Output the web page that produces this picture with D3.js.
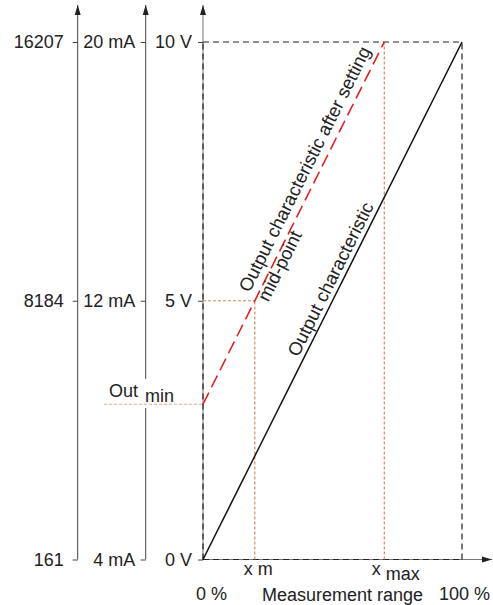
<!DOCTYPE html>
<html>
<head>
<meta charset="utf-8">
<script src="https://cdn.jsdelivr.net/npm/d3@7"></script>
<style>
  body { margin: 0; background: #fff; }
  text { font-family: "Liberation Sans", Arial, sans-serif; fill: #222; }
</style>
</head>
<body>
<div id="chart"></div>
<script>
// values
const percentRange = [0, 100];
const voltTicks = [0, 5, 10];
const mATicks = [4, 12, 20];
const countTicks = [161, 8184, 16207];
const outputCharacteristic = [[0, 0], [100, 10]];
const afterMidpoint = [[0, 3], [70, 10]];
const midPoint = [20, 5];
const xMax = 70;
const outMin = 3;

const W = 493, H = 605;
const fs = 18;

const svg = d3.select("#chart").append("svg")
    .attr("width", W)
    .attr("height", H);

const defs = svg.append("defs");
defs.append("marker")
    .attr("id", "arrow")
    .attr("viewBox", "0 0 10 10")
    .attr("refX", 10).attr("refY", 5)
    .attr("markerWidth", 10).attr("markerHeight", 10)
    .attr("markerUnits", "userSpaceOnUse")
    .attr("orient", "auto")
    .append("path")
    .attr("d", "M0,2 L10,5 L0,8 Z")
    .attr("fill", "#222");

const x = d3.scaleLinear().domain(percentRange).range([203, 462]);
const y = d3.scaleLinear().domain([0, 10]).range([559.5, 42]);
const yMA = d3.scaleLinear().domain([4, 20]).range([559.5, 42]);
const yCount = d3.scaleLinear().domain([161, 16207]).range([559.5, 42]);

const axisTop = 5;

// three vertical axes: counts, mA, volts
function sideAxis(xPos, scale, ticks, fmt, pad) {
    svg.append("line")
        .attr("x1", xPos).attr("x2", xPos)
        .attr("y1", scale.range()[0]).attr("y2", axisTop)
        .attr("stroke", "#444").attr("stroke-width", 1)
        .attr("marker-end", "url(#arrow)");
    const g = svg.append("g")
        .attr("transform", `translate(${xPos},0)`)
        .call(d3.axisLeft(scale).tickValues(ticks).tickSize(5).tickSizeOuter(0)
            .tickPadding(pad).tickFormat(fmt));
    g.select(".domain").remove();
    g.selectAll(".tick line").attr("stroke", "#444");
    g.selectAll(".tick text")
        .style("font-size", fs + "px")
        .style("font-family", "Liberation Sans, Arial, sans-serif")
        .attr("fill", "#222");
    return g;
}

sideAxis(77.7, yCount, countTicks, d => d, 9);
sideAxis(145.7, yMA, mATicks, d => d + " mA", 5.5);
// white gap behind "min" on the mA axis
svg.append("rect")
    .attr("x", 142).attr("y", 379)
    .attr("width", 36).attr("height", 29)
    .attr("fill", "#fff");

// main volt axis: grey solid + dark dashes
svg.append("line")
    .attr("x1", x(0)).attr("x2", x(0))
    .attr("y1", y(0)).attr("y2", axisTop)
    .attr("stroke", "#777").attr("stroke-width", 1)
    .attr("marker-end", "url(#arrow)");
svg.append("line")
    .attr("x1", x(0)).attr("x2", x(0))
    .attr("y1", y(0)).attr("y2", y(10))
    .attr("stroke", "#222").attr("stroke-width", 1.2)
    .attr("stroke-dasharray", "6,4");
const gV = svg.append("g")
    .attr("transform", `translate(${x(0)},0)`)
    .call(d3.axisLeft(y).tickValues(voltTicks).tickSize(5).tickSizeOuter(0)
        .tickPadding(6).tickFormat(d => d + " V"));
gV.select(".domain").remove();
gV.selectAll(".tick line").attr("stroke", "#444");
gV.selectAll(".tick text")
    .style("font-size", fs + "px")
    .style("font-family", "Liberation Sans, Arial, sans-serif")
    .attr("fill", "#222");

// x axis: grey solid + dark dashes up to 100 %
svg.append("line")
    .attr("x1", x(0)).attr("x2", 492)
    .attr("y1", y(0)).attr("y2", y(0))
    .attr("stroke", "#777").attr("stroke-width", 1)
    .attr("marker-end", "url(#arrow)");
svg.append("line")
    .attr("x1", x(0)).attr("x2", x(100))
    .attr("y1", y(0)).attr("y2", y(0))
    .attr("stroke", "#222").attr("stroke-width", 1.2)
    .attr("stroke-dasharray", "6,4");

// 10 V / 100 % frame
svg.append("line")
    .attr("x1", x(0)).attr("x2", x(100))
    .attr("y1", y(10)).attr("y2", y(10))
    .attr("stroke", "#222").attr("stroke-width", 1.2)
    .attr("stroke-dasharray", "6,4");
svg.append("line")
    .attr("x1", x(100)).attr("x2", x(100))
    .attr("y1", y(0)).attr("y2", y(10))
    .attr("stroke", "#222").attr("stroke-width", 1.2)
    .attr("stroke-dasharray", "6,4");

// orange dotted guides
const orange = "#d98b52";
function dotted(x1, y1, x2, y2, col) {
    svg.append("line")
        .attr("x1", x1).attr("y1", y1).attr("x2", x2).attr("y2", y2)
        .attr("stroke", col || orange).attr("stroke-width", 1.2)
        .attr("stroke-dasharray", "3,2");
}
dotted(x(midPoint[0]), y(0), x(midPoint[0]), y(midPoint[1]));
dotted(x(0), y(midPoint[1]), x(midPoint[0]), y(midPoint[1]));
dotted(x(xMax), y(0), x(xMax), y(10));
dotted(104, y(outMin), x(0), y(outMin), "#e2ad88");

// characteristic lines
const line = d3.line().x(d => x(d[0])).y(d => y(d[1]));
svg.append("path")
    .datum(outputCharacteristic)
    .attr("d", line)
    .attr("fill", "none")
    .attr("stroke", "#111").attr("stroke-width", 1.5);
svg.append("path")
    .datum(afterMidpoint)
    .attr("d", line)
    .attr("fill", "none")
    .attr("stroke", "#e8141c").attr("stroke-width", 1.5)
    .attr("stroke-dasharray", "13,6");

// rotated labels along the lines
function alongLabel(pts, startPx, offsets, lines, size) {
    const p0 = [x(pts[0][0]), y(pts[0][1])];
    const p1 = [x(pts[1][0]), y(pts[1][1])];
    const dx = p1[0] - p0[0], dy = p1[1] - p0[1];
    const len = Math.hypot(dx, dy);
    const ux = dx / len, uy = dy / len;
    const ang = Math.atan2(dy, dx) * 180 / Math.PI;
    lines.forEach((t, i) => {
        const ox = p0[0] + ux * startPx + (-uy) * offsets[i];
        const oy = p0[1] + uy * startPx + ux * offsets[i];
        svg.append("text")
            .attr("transform", `translate(${ox},${oy}) rotate(${ang})`)
            .style("font-size", size + "px")
            .text(t);
    });
}
alongLabel(afterMidpoint, 120, [-8, 13],
    ["Output characteristic after setting", "mid-point"], 18.5);
alongLabel(outputCharacteristic, 223, [-5],
    ["Output characteristic"], 18.5);

// Out min
svg.append("text")
    .attr("x", 109).attr("y", y(outMin) - 7)
    .style("font-size", fs + "px")
    .text("Out");
svg.append("text")
    .attr("x", 145).attr("y", y(outMin) - 2)
    .style("font-size", fs + "px")
    .text("min");

// x labels
svg.append("text")
    .attr("x", x(0) - 7).attr("y", 600)
    .style("font-size", fs + "px")
    .text("0 %");
svg.append("text")
    .attr("x", 490).attr("y", 600)
    .attr("text-anchor", "end")
    .style("font-size", fs + "px")
    .text("100 %");
svg.append("text")
    .attr("x", 262).attr("y", 601)
    .style("font-size", fs + "px")
    .text("Measurement range");

svg.append("text")
    .attr("x", x(midPoint[0]) - 11).attr("y", 575)
    .style("font-size", fs + "px")
    .text("x");
svg.append("text")
    .attr("x", x(midPoint[0]) + 3).attr("y", 575)
    .style("font-size", fs + "px")
    .text("m");
svg.append("text")
    .attr("x", x(xMax) - 12.5).attr("y", 575)
    .style("font-size", fs + "px")
    .text("x");
svg.append("text")
    .attr("x", x(xMax) + 1.5).attr("y", 580)
    .style("font-size", fs + "px")
    .text("max");
</script>
</body>
</html>
